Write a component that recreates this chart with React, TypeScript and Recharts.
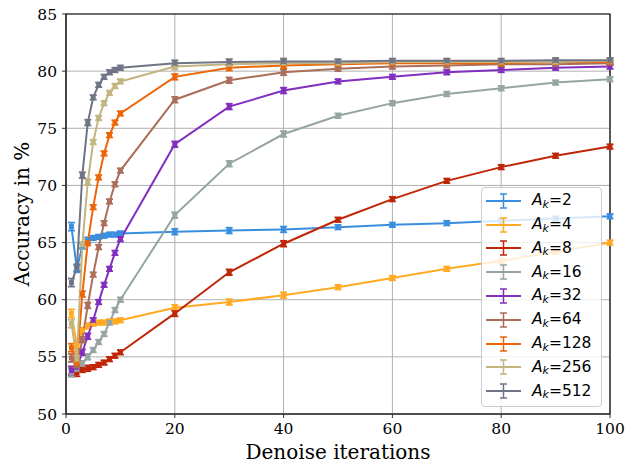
import {
  CartesianGrid,
  ErrorBar,
  Legend,
  Line,
  LineChart,
  ReferenceArea,
  XAxis,
  YAxis
} from 'recharts'

// denoise iterations on the x axis
const iterations = [1, 2, 3, 4, 5, 6, 7, 8, 9, 10, 20, 30, 40, 50, 60, 70, 80, 90, 100]

// accuracy (%) per A_k
const ak2 = [66.4, 62.7, 64.7, 65.2, 65.4, 65.5, 65.6, 65.7, 65.7, 65.8, 65.95, 66.05, 66.15, 66.35, 66.55, 66.7, 66.9, 67.1, 67.3]
const ak4 = [58.8, 56.0, 57.3, 57.7, 57.9, 58.0, 58.0, 58.1, 58.1, 58.2, 59.3, 59.8, 60.4, 61.1, 61.9, 62.7, 63.4, 64.2, 65.0]
const ak8 = [53.8, 53.6, 53.9, 54.0, 54.1, 54.3, 54.5, 54.8, 55.1, 55.4, 58.8, 62.4, 64.9, 67.0, 68.8, 70.4, 71.6, 72.6, 73.4]
const ak16 = [53.6, 53.9, 54.4, 55.0, 55.6, 56.3, 57.0, 58.0, 59.1, 60.0, 67.4, 71.9, 74.5, 76.1, 77.2, 78.0, 78.5, 79.0, 79.3]
const ak32 = [53.8, 54.1, 55.4, 56.8, 58.2, 59.8, 61.3, 62.7, 64.1, 65.3, 73.6, 76.9, 78.3, 79.1, 79.5, 79.9, 80.1, 80.3, 80.4]
const ak64 = [54.9, 54.2, 56.5, 59.5, 62.2, 64.6, 66.7, 68.6, 70.1, 71.3, 77.5, 79.2, 79.9, 80.2, 80.4, 80.5, 80.6, 80.6, 80.7]
const ak128 = [55.8, 54.4, 60.5, 65.0, 68.1, 70.7, 72.8, 74.4, 75.5, 76.3, 79.5, 80.3, 80.5, 80.6, 80.7, 80.7, 80.7, 80.8, 80.8]
const ak256 = [57.9, 54.8, 64.8, 70.3, 73.8, 75.9, 77.2, 78.1, 78.7, 79.1, 80.4, 80.6, 80.7, 80.7, 80.8, 80.8, 80.8, 80.8, 80.9]
const ak512 = [61.5, 62.8, 70.9, 75.5, 77.7, 78.8, 79.5, 79.9, 80.1, 80.3, 80.7, 80.8, 80.85, 80.85, 80.9, 80.9, 80.9, 80.95, 80.95]

// half-width of the error bars
const errs = [0.35, 0.3, 0.25, 0.25, 0.2, 0.2, 0.2, 0.2, 0.2, 0.2, 0.25, 0.25, 0.25, 0.2, 0.2, 0.2, 0.2, 0.2, 0.2]

const sizes = [2, 4, 8, 16, 32, 64, 128, 256, 512]
const accuracy = [ak2, ak4, ak8, ak16, ak32, ak64, ak128, ak256, ak512]
const colors = ['#3a8ee0', '#ffaa22', '#bf2608', '#95a5a3', '#822ec0', '#aa6e5a', '#ec6608', '#c2b57f', '#707585']

const xTicks = [0, 20, 40, 60, 80, 100]
const yTicks = [50, 55, 60, 65, 70, 75, 80, 85]

const rows = iterations.map((x, i) => {
  const r: any = { x, err: errs[i] }
  sizes.forEach((s, j) => {
    r['a' + s] = accuracy[j][i]
  })
  return r
})

const serif = 'DejaVu Serif'

const Square = ({ cx, cy, color }: any) => {
  if (cx == null || cy == null) return null
  return <rect x={cx - 2.5} y={cy - 2.5} width={5} height={5} fill={color} />
}

const LegendBox = () => (
  <div
    style={{
      background: 'rgba(255,255,255,0.8)',
      border: '1px solid #cccccc',
      borderRadius: 4,
      paddingTop: 1,
      boxSizing: 'border-box',
      width: 121,
      height: 220,
      fontFamily: 'DejaVu Sans',
      fontSize: 15.5,
      color: '#000'
    }}
  >
    {sizes.map((s, j) => (
      <div key={s} style={{ display: 'flex', alignItems: 'center', height: 23.8 }}>
        <svg width={50} height={20} style={{ flex: 'none' }}>
          <line x1={4} y1={10} x2={39} y2={10} stroke={colors[j]} strokeWidth={2} />
          <line x1={21.5} y1={3} x2={21.5} y2={17} stroke={colors[j]} strokeWidth={1.5} />
          <line x1={18} y1={3} x2={25} y2={3} stroke={colors[j]} strokeWidth={1.5} />
          <line x1={18} y1={17} x2={25} y2={17} stroke={colors[j]} strokeWidth={1.5} />
        </svg>
        <span style={{ whiteSpace: 'nowrap', lineHeight: 1 }}>
          <i>A</i>
          <i style={{ fontSize: '0.7em', position: 'relative', top: '0.25em' }}>k</i>={s}
        </span>
      </div>
    ))}
  </div>
)

const YTitle = ({ viewBox }: any) => (
  <text
    x={22}
    y={viewBox.y + viewBox.height / 2}
    transform={`rotate(-90, 22, ${viewBox.y + viewBox.height / 2})`}
    textAnchor='middle'
    dominantBaseline='central'
    fontFamily={serif}
    fontSize={20}
    fill='#000'
  >
    Accuracy in %
  </text>
)

const XTitle = ({ viewBox }: any) => (
  <text
    x={viewBox.x + viewBox.width / 2}
    y={459}
    textAnchor='middle'
    fontFamily={serif}
    fontSize={20}
    fill='#000'
  >
    Denoise iterations
  </text>
)

export default function App() {
  return (
    <div style={{ position: 'absolute', left: 0, top: 0, width: 626, height: 466, background: '#fff' }}>
      <LineChart width={626} height={466} data={rows} margin={{ top: 14, right: 16, bottom: 0, left: 0 }}>
        <CartesianGrid stroke='#b0b0b0' strokeWidth={1} />
        <XAxis
          dataKey='x'
          type='number'
          domain={[0, 100]}
          ticks={xTicks}
          height={52}
          tickSize={4}
          tickMargin={5}
          stroke='#333'
          tick={{ fontFamily: serif, fontSize: 15.5, fill: '#000' }}
          label={<XTitle />}
        />
        <YAxis
          type='number'
          domain={[50, 85]}
          ticks={yTicks}
          width={66}
          tickSize={4}
          tickMargin={5}
          stroke='#333'
          tick={{ fontFamily: serif, fontSize: 15.5, fill: '#000' }}
          label={<YTitle />}
        />
        <ReferenceArea x1={0} x2={100} y1={50} y2={85} fill='none' stroke='#000' strokeWidth={1.2} ifOverflow='visible' />
        {sizes.map((s, j) => (
          <Line
            key={s}
            dataKey={'a' + s}
            stroke={colors[j]}
            strokeWidth={2}
            dot={<Square color={colors[j]} />}
            activeDot={false}
            isAnimationActive={false}
          >
            <ErrorBar dataKey='err' width={3.5} strokeWidth={1.8} stroke={colors[j]} direction='y' />
          </Line>
        ))}
        <Legend
          layout='vertical'
          align='center'
          verticalAlign='middle'
          content={<LegendBox />}
          wrapperStyle={{ left: 481, top: 187, width: 121, height: 220 }}
        />
      </LineChart>
    </div>
  )
}
